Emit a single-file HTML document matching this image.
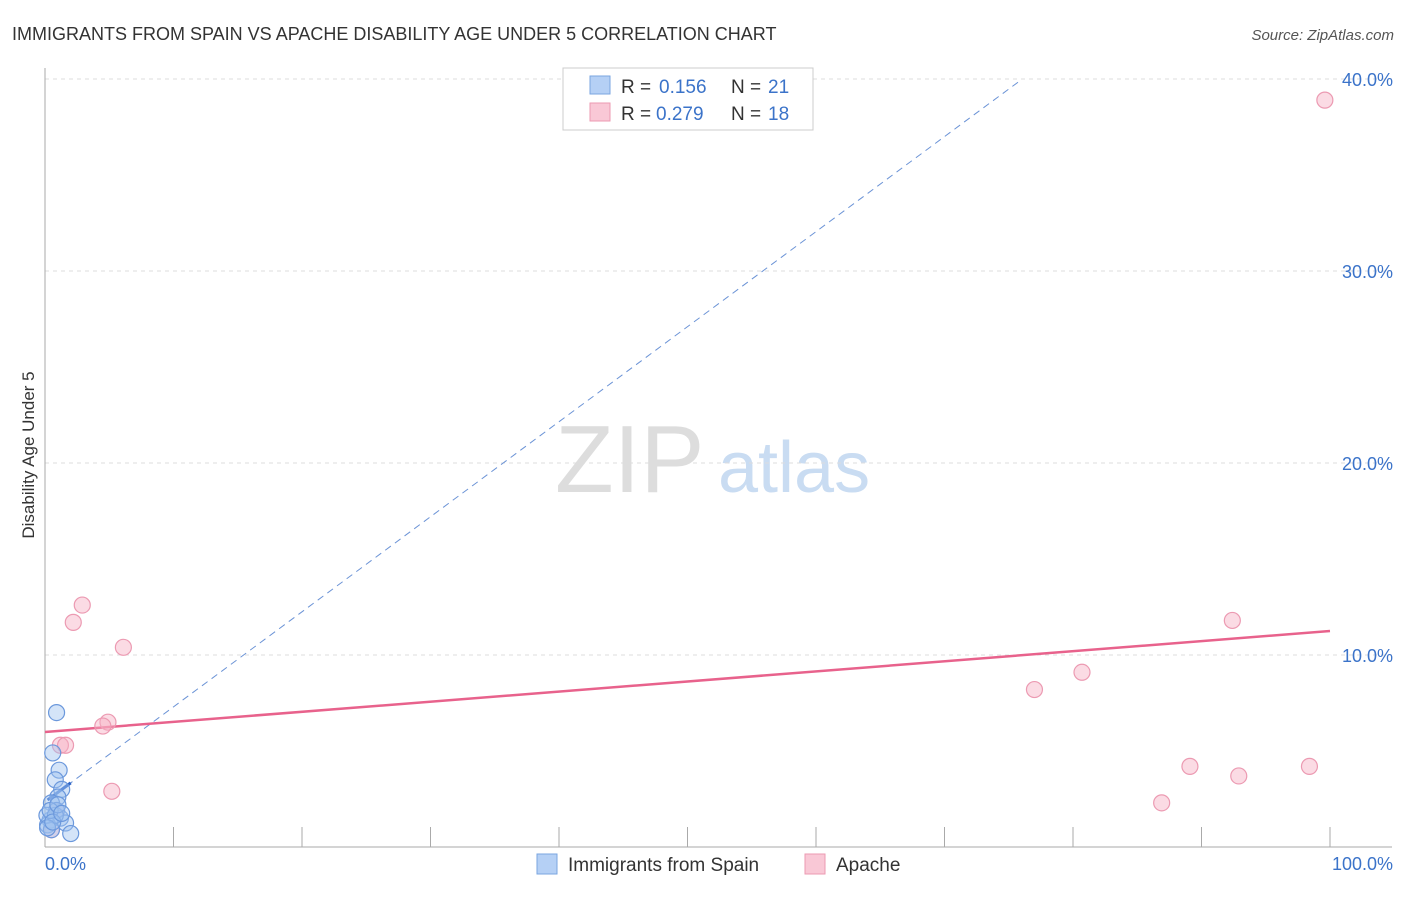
<!DOCTYPE html>
<html><head><meta charset="utf-8"><style>
body{margin:0;background:#fff;font-family:"Liberation Sans",sans-serif}
svg text{font-family:"Liberation Sans",sans-serif}
</style></head><body>
<svg width="1406" height="892" xmlns="http://www.w3.org/2000/svg">
<text x="12" y="40" font-size="18" fill="#333">IMMIGRANTS FROM SPAIN VS APACHE DISABILITY AGE UNDER 5 CORRELATION CHART</text>
<text x="1394" y="40" font-size="15" fill="#555" font-style="italic" text-anchor="end">Source: ZipAtlas.com</text>
<text transform="translate(34,455) rotate(-90)" font-size="17" fill="#333" text-anchor="middle">Disability Age Under 5</text>
<text x="555" y="492" font-size="96" fill="#ddd" font-family="Liberation Serif">ZIP</text>
<text x="718" y="492" font-size="72" fill="#c9dcf2">atlas</text>
<g id="grid"></g><g id="axes"></g><g id="lines"></g><g id="pts"></g>
<g>
<rect x="563" y="68" width="250" height="62" fill="#fff" stroke="#ccc"/>
<rect x="590" y="76" width="20" height="18" fill="#b5d0f5" stroke="#7aa6e0"/>
<text x="621" y="93" font-size="19" fill="#333">R =</text>
<text x="659" y="93" font-size="19" fill="#3b73c9">0.156</text>
<text x="731" y="93" font-size="19" fill="#333">N =</text>
<text x="768" y="93" font-size="19" fill="#3b73c9">21</text>
<rect x="590" y="103" width="20" height="18" fill="#f9c8d6" stroke="#ec9ab2"/>
<text x="621" y="120" font-size="19" fill="#333">R =</text>
<text x="656" y="120" font-size="19" fill="#3b73c9">0.279</text>
<text x="731" y="120" font-size="19" fill="#333">N =</text>
<text x="768" y="120" font-size="19" fill="#3b73c9">18</text>
</g>
<g>
<rect x="537" y="854" width="20" height="20" fill="#b5d0f5" stroke="#7aa6e0"/>
<text x="568" y="871" font-size="19" fill="#333">Immigrants from Spain</text>
<rect x="805" y="854" width="20" height="20" fill="#f9c8d6" stroke="#ec9ab2"/>
<text x="836" y="871" font-size="19" fill="#333">Apache</text>
</g>
</svg>
<script>
const yTicks=[10,20,30,40];
const yTickLabels=["10.0%","20.0%","30.0%","40.0%"];
const xTickLabels=["0.0%","100.0%"];
const blueX=[0.9,0.6,1.1,0.8,1.3,1.0,0.5,0.9,1.2,0.4,0.2,1.6,2.0,0.5,0.15,0.8,0.4,1.0,0.2,0.6,1.3];
const blueY=[7.0,4.9,4.0,3.5,3.0,2.6,2.3,1.9,1.5,1.4,1.15,1.25,0.7,0.9,1.65,1.65,1.9,2.2,1.0,1.3,1.75];
const pinkX=[99.6,2.9,2.2,6.1,4.9,4.5,1.2,1.6,5.2,92.4,80.7,77.0,89.1,92.9,98.4,86.9,0.5,0.9];
const pinkY=[38.9,12.6,11.7,10.4,6.5,6.3,5.3,5.3,2.9,11.8,9.1,8.2,4.2,3.7,4.2,2.3,0.9,1.9];
const blueTrend=[2.35,0.495];
const pinkTrend=[5.99,0.0526];
const NS="http://www.w3.org/2000/svg";
const X=v=>45+v*12.85, Y=v=>847-v*19.2;
function mk(tag,attrs,parent){const e=document.createElementNS(NS,tag);for(const k in attrs)e.setAttribute(k,attrs[k]);document.getElementById(parent).appendChild(e);return e;}
yTicks.forEach((t,i)=>{
 const g=mk('line',{x1:45,x2:1392,y1:Y(t),y2:Y(t),stroke:'#ddd','stroke-dasharray':'4,4'},'grid');
 
 
 const tx=mk('text',{x:1393,y:Y(t)+7,'font-size':18,fill:'#3b73c9','text-anchor':'end'},'grid');
 tx.textContent=yTickLabels[i];
 
 
});
const ax=mk('line',{x1:45,x2:45,y1:68,y2:847,stroke:'#aaa'},'axes');


const bx=mk('line',{x1:45,x2:1392,y1:847,y2:847,stroke:'#aaa'},'axes');


for(let i=1;i<=10;i++){
 const t=mk('line',{x1:X(i*10),x2:X(i*10),y1:827,y2:847,stroke:'#aaa'},'axes');
 
 
}
const xl0=mk('text',{x:45,y:870,'font-size':18,fill:'#3b73c9'},'axes');xl0.textContent=xTickLabels[0];


const xl1=mk('text',{x:1393,y:870,'font-size':18,fill:'#3b73c9','text-anchor':'end'},'axes');xl1.textContent=xTickLabels[1];


const bd=mk('line',{x1:X(0.2),y1:Y(blueTrend[0]+blueTrend[1]*0.2),x2:X(76),y2:Y(blueTrend[0]+blueTrend[1]*76),stroke:'#6b93d6','stroke-dasharray':'7,5','stroke-width':1},'lines');


const bs=mk('line',{x1:X(0.2),y1:Y(blueTrend[0]+blueTrend[1]*0.2),x2:X(2),y2:Y(blueTrend[0]+blueTrend[1]*2),stroke:'#2f66c8','stroke-width':3},'lines');


const pl=mk('line',{x1:X(0),y1:Y(pinkTrend[0]),x2:X(100),y2:Y(pinkTrend[0]+pinkTrend[1]*100),stroke:'#e8628c','stroke-width':2.5},'lines');


pinkX.forEach((v,i)=>{
 const c=mk('circle',{cx:X(v),cy:Y(pinkY[i]),r:8,fill:'rgba(246,175,196,0.45)',stroke:'#ec9ab2','stroke-width':1.2},'pts');
 
 
});
blueX.forEach((v,i)=>{
 const c=mk('circle',{cx:X(v),cy:Y(blueY[i]),r:8,fill:'rgba(160,196,240,0.45)',stroke:'#6b98dc','stroke-width':1.2},'pts');
 
 
});
</script>
</body></html>
